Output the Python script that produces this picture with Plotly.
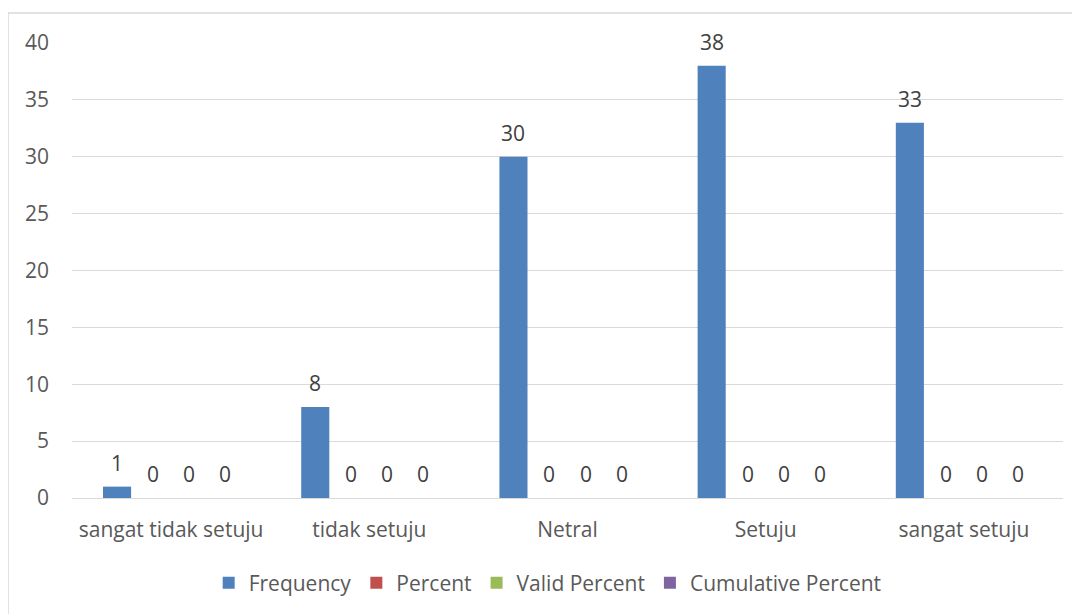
import plotly.graph_objects as go

categories = ["sangat tidak setuju", "tidak setuju", "Netral", "Setuju", "sangat setuju"]
frequency = [1, 8, 30, 38, 33]
percent = [0, 0, 0, 0, 0]
valid_percent = [0, 0, 0, 0, 0]
cumulative_percent = [0, 0, 0, 0, 0]
series_names = ["Frequency", "Percent", "Valid Percent", "Cumulative Percent"]
colors = ["#4f81bd", "#c0504d", "#9bbb59", "#8064a2"]
y_ticks = [0, 5, 10, 15, 20, 25, 30, 35, 40]

FONT = "'Open Sans', Lato, sans-serif"
FS = 21

# page has an 8px body margin; the figure is placed at (8, 8)
OFF = 8
W, H = 1080 - OFF, 614 - OFF
L, R, T, B = 72 - OFF, 17, 43 - OFF, 115
plot_w = W - L - R
plot_h = H - T - B
cat_w = plot_w / len(categories)
BARGAP = 0.273
slot = cat_w * (1 - BARGAP) / len(series_names)

all_series = [frequency, percent, valid_percent, cumulative_percent]

fig = go.Figure()
for name, vals, col in zip(series_names, all_series, colors):
    fig.add_trace(go.Bar(
        x=categories, y=vals, name=name, marker=dict(color=col, line=dict(width=0)),
        cliponaxis=False,
    ))

annotations = []
for i, vals in enumerate(all_series):
    for cat, v in zip(categories, vals):
        annotations.append(dict(
            x=cat, y=v, xref="x", yref="y", text=str(v), showarrow=False,
            xshift=(i - (len(series_names) - 1) / 2) * slot, yshift=24,
            yanchor="middle", xanchor="center",
            font=dict(family=FONT, size=FS, color="#404040"),
        ))

fig.update_layout(
    width=W, height=H,
    paper_bgcolor="white", plot_bgcolor="white",
    margin=dict(l=L, r=R, t=T, b=B),
    barmode="group", bargap=BARGAP, bargroupgap=0.22,
    font=dict(family=FONT, size=FS, color="#595959"),
    showlegend=True,
    legend=dict(orientation="h", x=0.48, xanchor="center", y=-(583 - 499) / plot_h, yanchor="middle",
                font=dict(family=FONT, size=FS, color="#595959"),
                traceorder="normal", itemwidth=30),
    yaxis=dict(range=[0, 40], tickvals=y_ticks, showgrid=True, gridcolor="#d9d9d9",
               gridwidth=1, zeroline=False, showline=False, ticks="",
               tickfont=dict(family=FONT, size=FS, color="#595959"), ticklabelstandoff=22),
    xaxis=dict(showgrid=False, showline=True, linecolor="#d9d9d9", linewidth=1, ticks="",
               tickfont=dict(family=FONT, size=FS, color="#595959"), ticklabelstandoff=13),
    annotations=annotations,
    shapes=[dict(type="rect", xref="paper", yref="paper",
                 x0=(8 - OFF - L) / plot_w, x1=(W + 10 - L) / plot_w,
                 y0=-(H + 20 - (H - B)) / plot_h, y1=(T - (13 - OFF) + plot_h) / plot_h,
                 line=dict(color="#d9d9d9", width=1.5), fillcolor="rgba(0,0,0,0)", layer="below")],
)

fig.write_html("out.html")
